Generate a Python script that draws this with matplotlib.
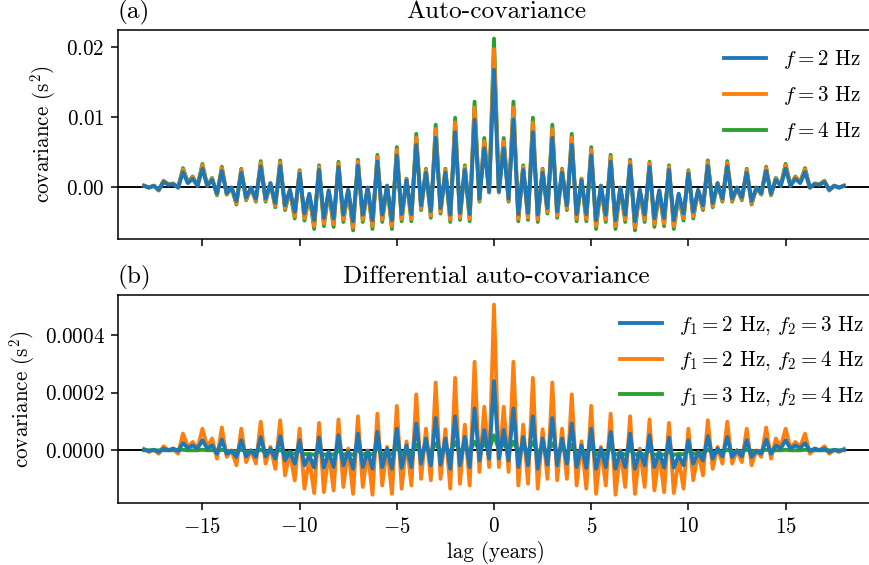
import numpy as np
import matplotlib
matplotlib.use("Agg")
import matplotlib.pyplot as plt

plt.rcParams['font.family'] = 'serif'
plt.rcParams['font.serif'] = ['cmr10']
plt.rcParams['mathtext.fontset'] = 'cm'
plt.rcParams['axes.formatter.use_mathtext'] = True
plt.rcParams['font.size'] = 11

# lags 0 .. 18 years in quarter-year steps; the covariances are symmetric in lag
lag_half = np.arange(0, 73) / 4

# (a) auto-covariance, s^2
auto_f2 = [0.01675, -0.00063, 0.00553, -0.00166,
           0.00964, -0.00387, 0.00245, -0.00371,
           0.00782, -0.00395, 0.00205, -0.00300,
           0.00703, -0.00348, 0.00205, -0.00261,
           0.00600, -0.00387, 0.00095, -0.00387,
           0.00450, -0.00474, 0.00016, -0.00395,
           0.00363, -0.00474, -0.00008, -0.00395,
           0.00308, -0.00490, -0.00040, -0.00395,
           0.00284, -0.00450, -0.00047, -0.00442,
           0.00245, -0.00474, -0.00095, -0.00379,
           0.00190, -0.00356, -0.00040, -0.00261,
           0.00300, -0.00229, 0.00047, -0.00166,
           0.00292, -0.00166, -0.00008, -0.00150,
           0.00205, -0.00198, -0.00008, -0.00087,
           0.00229, -0.00095, 0.00103, 0.00016,
           0.00261, 0.00016, 0.00119, 0.00055,
           0.00213, -0.00008, 0.00040, 0.00032,
           0.00071, -0.00040, 0.00016, -0.00008,
           0.00016]
auto_f3 = [0.01970, -0.00074, 0.00651, -0.00195,
           0.01135, -0.00456, 0.00288, -0.00437,
           0.00921, -0.00465, 0.00242, -0.00353,
           0.00828, -0.00409, 0.00242, -0.00307,
           0.00707, -0.00456, 0.00112, -0.00456,
           0.00530, -0.00558, 0.00019, -0.00465,
           0.00428, -0.00558, -0.00009, -0.00465,
           0.00363, -0.00577, -0.00047, -0.00465,
           0.00335, -0.00530, -0.00056, -0.00521,
           0.00288, -0.00558, -0.00112, -0.00446,
           0.00223, -0.00419, -0.00047, -0.00307,
           0.00353, -0.00270, 0.00056, -0.00195,
           0.00344, -0.00195, -0.00009, -0.00177,
           0.00242, -0.00233, -0.00009, -0.00102,
           0.00270, -0.00112, 0.00121, 0.00019,
           0.00307, 0.00019, 0.00140, 0.00065,
           0.00251, -0.00009, 0.00047, 0.00037,
           0.00084, -0.00047, 0.00019, -0.00009,
           0.00019]
auto_f4 = [0.0212, -0.0008, 0.0070, -0.0021,
           0.0122, -0.0049, 0.0031, -0.0047,
           0.0099, -0.0050, 0.0026, -0.0038,
           0.0089, -0.0044, 0.0026, -0.0033,
           0.0076, -0.0049, 0.0012, -0.0049,
           0.0057, -0.0060, 0.0002, -0.0050,
           0.0046, -0.0060, -0.0001, -0.0050,
           0.0039, -0.0062, -0.0005, -0.0050,
           0.0036, -0.0057, -0.0006, -0.0056,
           0.0031, -0.0060, -0.0012, -0.0048,
           0.0024, -0.0045, -0.0005, -0.0033,
           0.0038, -0.0029, 0.0006, -0.0021,
           0.0037, -0.0021, -0.0001, -0.0019,
           0.0026, -0.0025, -0.0001, -0.0011,
           0.0029, -0.0012, 0.0013, 0.0002,
           0.0033, 0.0002, 0.0015, 0.0007,
           0.0027, -0.0001, 0.0005, 0.0004,
           0.0009, -0.0005, 0.0002, -0.0001,
           0.0002]

# (b) differential auto-covariance, s^2
diff_23 = [0.000240, -0.000029, 0.000070, -0.000035,
           0.000145, -0.000058, 0.000046, -0.000052,
           0.000118, -0.000064, 0.000041, -0.000050,
           0.000112, -0.000052, 0.000041, -0.000046,
           0.000093, -0.000058, 0.000017, -0.000061,
           0.000075, -0.000064, 0.000006, -0.000058,
           0.000064, -0.000064, -0.000003, -0.000058,
           0.000058, -0.000064, -0.000003, -0.000052,
           0.000052, -0.000058, -0.000006, -0.000060,
           0.000044, -0.000060, -0.000017, -0.000052,
           0.000035, -0.000046, -0.000006, -0.000035,
           0.000049, -0.000029, 0.000006, -0.000021,
           0.000046, -0.000023, 0.000000, -0.000021,
           0.000035, -0.000023, -0.000002, -0.000012,
           0.000037, -0.000012, 0.000017, 0.000006,
           0.000035, 0.000006, 0.000017, 0.000008,
           0.000025, -0.000002, 0.000006, 0.000000,
           0.000006, -0.000006, 0.000002, -0.000002,
           0.000002]
diff_24 = [0.000505, -0.000058, 0.000151, -0.000075,
           0.000307, -0.000122, 0.000089, -0.000116,
           0.000251, -0.000133, 0.000073, -0.000099,
           0.000235, -0.000104, 0.000075, -0.000099,
           0.000194, -0.000122, 0.000031, -0.000133,
           0.000154, -0.000151, 0.000012, -0.000122,
           0.000127, -0.000154, 0.000000, -0.000127,
           0.000118, -0.000151, 0.000006, -0.000127,
           0.000107, -0.000139, -0.000006, -0.000145,
           0.000095, -0.000148, -0.000029, -0.000133,
           0.000075, -0.000104, -0.000006, -0.000087,
           0.000104, -0.000064, 0.000012, -0.000046,
           0.000099, -0.000046, 0.000000, -0.000041,
           0.000075, -0.000052, 0.000000, -0.000023,
           0.000079, -0.000029, 0.000041, 0.000012,
           0.000075, 0.000006, 0.000029, 0.000012,
           0.000058, -0.000012, 0.000006, 0.000000,
           0.000014, -0.000012, 0.000002, -0.000006,
           0.000005]
diff_34 = [0.000052, 0.000002, 0.000022, 0.000000,
           0.000030, -0.000004, 0.000014, -0.000004,
           0.000028, -0.000006, 0.000010, -0.000006,
           0.000024, -0.000008, 0.000008, -0.000008,
           0.000020, -0.000010, 0.000002, -0.000012,
           0.000014, -0.000014, -0.000004, -0.000014,
           0.000008, -0.000016, -0.000008, -0.000016,
           0.000004, -0.000016, -0.000010, -0.000016,
           0.000000, -0.000016, -0.000012, -0.000016,
           -0.000002, -0.000016, -0.000012, -0.000014,
           0.000000, -0.000012, -0.000008, -0.000010,
           0.000002, -0.000008, -0.000004, -0.000006,
           0.000002, -0.000006, -0.000004, -0.000004,
           0.000002, -0.000004, -0.000002, -0.000002,
           0.000002, -0.000002, 0.000000, 0.000000,
           0.000002, 0.000000, 0.000000, 0.000000,
           0.000002, 0.000000, 0.000000, 0.000000,
           0.000000, 0.000000, 0.000000, 0.000000,
           0.000000]

auto_labels = [r"$f = 2$ Hz", r"$f = 3$ Hz", r"$f = 4$ Hz"]
diff_labels = [r"$f_1 = 2$ Hz, $f_2 = 3$ Hz",
               r"$f_1 = 2$ Hz, $f_2 = 4$ Hz",
               r"$f_1 = 3$ Hz, $f_2 = 4$ Hz"]


def full(half):
    half = np.asarray(half)
    return np.concatenate([half[:0:-1], half])


lags = np.concatenate([-lag_half[:0:-1], lag_half])

fig = plt.figure(figsize=(870 / 138, 565 / 138), dpi=138)
ax1 = fig.add_axes([118 / 870, 1 - 239 / 565, 756 / 870, 209 / 565])
ax2 = fig.add_axes([118 / 870, 1 - 503.4 / 565, 756 / 870, 208.6 / 565])

colors = ['tab:blue', 'tab:orange', 'tab:green']

for ax in (ax1, ax2):
    ax.axhline(0, color='k', lw=1.0, zorder=1)

ax1.plot(lags, full(auto_f2), color=colors[0], lw=2, zorder=4, label=auto_labels[0])
ax1.plot(lags, full(auto_f3), color=colors[1], lw=2, zorder=3, label=auto_labels[1])
ax1.plot(lags, full(auto_f4), color=colors[2], lw=2, zorder=2, label=auto_labels[2])

ax2.plot(lags, full(diff_23), color=colors[0], lw=2, zorder=4, label=diff_labels[0])
ax2.plot(lags, full(diff_24), color=colors[1], lw=2, zorder=2, label=diff_labels[1])
ax2.plot(lags, full(diff_34), color=colors[2], lw=2, zorder=3, label=diff_labels[2])

xl = (-(494 - 118) / 19.44, (874 - 494) / 19.44)
for ax in (ax1, ax2):
    ax.set_xlim(*xl)
    ax.set_xticks([-15, -10, -5, 0, 5, 10, 15])
    ax.set_ylabel(r"covariance (s$^2$)")

ax1.legend(loc='upper right', frameon=False, bbox_to_anchor=(1.008, 1.005),
           labelspacing=0.62)
ax2.legend(loc='upper right', frameon=False, bbox_to_anchor=(1.012, 1.0),
           labelspacing=0.62)

ax1.set_ylim(-0.00743, 0.02243)
ax1.set_yticks([0, 0.01, 0.02])
ax1.tick_params(axis='x', labelbottom=False)
ax1.set_title("(a)", loc='left')
ax1.set_title("Auto-covariance")

ax2.set_ylim(-0.000184, 0.000539)
ax2.set_yticks([0, 0.0002, 0.0004])
ax2.set_title("(b)", loc='left')
ax2.set_title("Differential auto-covariance")
ax2.set_xlabel("lag (years)", labelpad=2)

fig.savefig("out.png", dpi=138)
